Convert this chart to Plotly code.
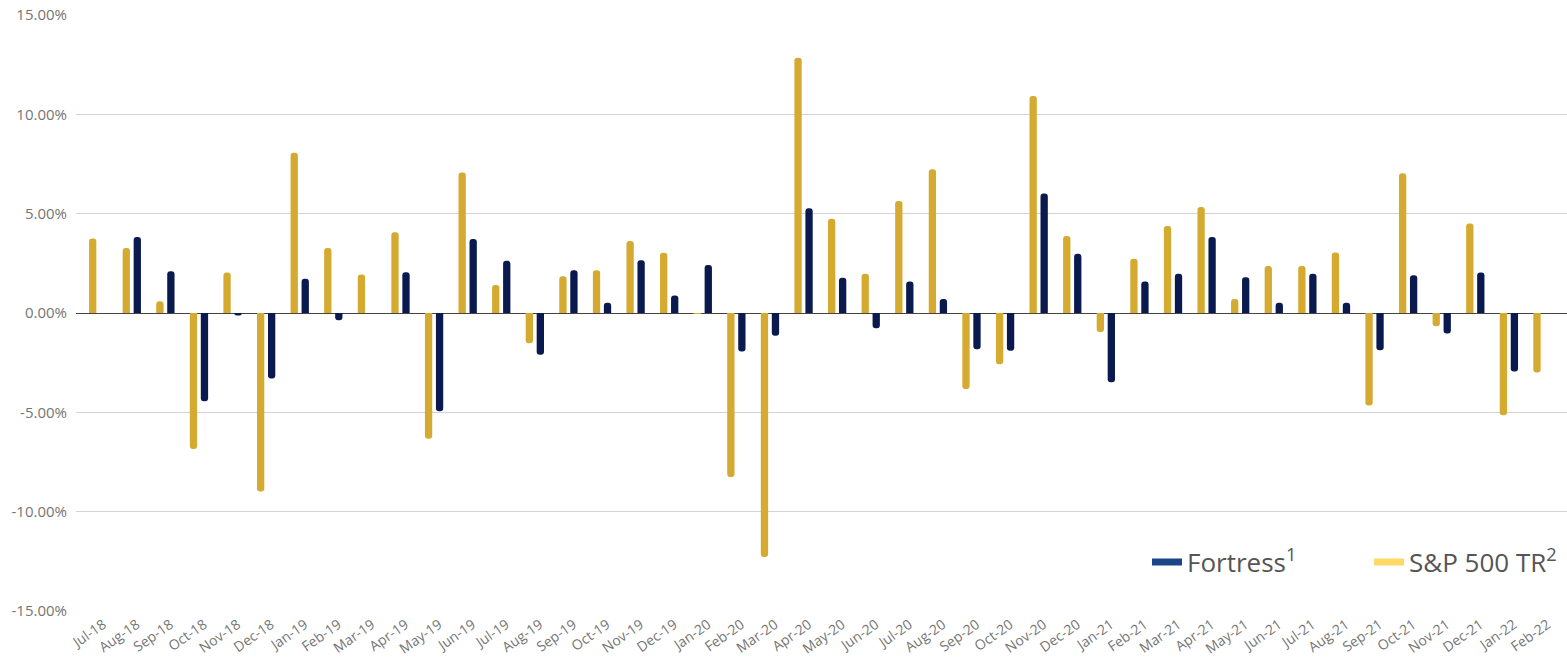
import plotly.graph_objects as go

months = ["Jul-18", "Aug-18", "Sep-18", "Oct-18", "Nov-18", "Dec-18",
          "Jan-19", "Feb-19", "Mar-19", "Apr-19", "May-19", "Jun-19",
          "Jul-19", "Aug-19", "Sep-19", "Oct-19", "Nov-19", "Dec-19",
          "Jan-20", "Feb-20", "Mar-20", "Apr-20", "May-20", "Jun-20",
          "Jul-20", "Aug-20", "Sep-20", "Oct-20", "Nov-20", "Dec-20",
          "Jan-21", "Feb-21", "Mar-21", "Apr-21", "May-21", "Jun-21",
          "Jul-21", "Aug-21", "Sep-21", "Oct-21", "Nov-21", "Dec-21",
          "Jan-22", "Feb-22"]

sp500_tr = [3.75, 3.27, 0.59, -6.84, 2.04, -8.99,
            8.06, 3.27, 1.94, 4.07, -6.33, 7.07,
            1.41, -1.52, 1.85, 2.15, 3.62, 3.03,
            -0.04, -8.25, -12.28, 12.85, 4.75, 1.97,
            5.64, 7.24, -3.82, -2.58, 10.92, 3.87,
            -0.96, 2.73, 4.38, 5.34, 0.71, 2.36,
            2.36, 3.05, -4.66, 7.04, -0.67, 4.51,
            -5.15, -3.00]

fortress = [None, 3.82, 2.10, -4.44, -0.12, -3.30,
            1.73, -0.37, None, 2.05, -4.95, 3.72,
            2.63, -2.10, 2.15, 0.51, 2.66, 0.88,
            2.41, -1.94, -1.14, 5.27, 1.77, -0.77,
            1.58, 0.71, -1.82, -1.90, 6.01, 2.98,
            -3.48, 1.58, 1.97, 3.82, 1.80, 0.52,
            1.97, 0.52, -1.87, 1.90, -1.03, 2.04,
            -2.95, None]

y_ticks = [-15, -10, -5, 0, 5, 10, 15]
y_tick_labels = ["-15.00%", "-10.00%", "-5.00%", "0.00%", "5.00%", "10.00%", "15.00%"]

GOLD = "#D4AA30"
NAVY = "#0B1A4E"
LEG_BLUE = "#1C4587"
LEG_YELLOW = "#FFD966"

fig = go.Figure()
fig.add_trace(go.Bar(x=months, y=sp500_tr, name="S&P 500 TR", marker_color=GOLD,
                     marker_line_width=0, showlegend=False))
fig.add_trace(go.Bar(x=months, y=fortress, name="Fortress", marker_color=NAVY,
                     marker_line_width=0, showlegend=False))
# legend-only entries (legend swatches use lighter colours in the original)
fig.add_trace(go.Scatter(x=[None], y=[None], mode="lines", name="Fortress<sup>1</sup>",
                         line=dict(color=LEG_BLUE, width=7), hoverinfo="skip",
                         legend="legend"))
fig.add_trace(go.Scatter(x=[None], y=[None], mode="lines", name="S&P 500 TR<sup>2</sup>",
                         line=dict(color=LEG_YELLOW, width=7), hoverinfo="skip",
                         legend="legend2"))

legend_font = dict(family="Open Sans", size=26, color="#555555")
fig.update_layout(
    width=1567, height=665,
    margin=dict(l=76, r=0, t=15, b=54),
    paper_bgcolor="white", plot_bgcolor="white",
    barmode="group", bargap=0.345, bargroupgap=0.336,
    barcornerradius=3,
    font=dict(family="Open Sans", color="#757575"),
    legend=dict(orientation="h", x=0.7183, y=0.082, xanchor="left", yanchor="middle",
                font=legend_font, bgcolor="rgba(0,0,0,0)", borderwidth=0),
    legend2=dict(orientation="h", x=0.8672, y=0.082, xanchor="left", yanchor="middle",
                 font=legend_font, bgcolor="rgba(0,0,0,0)", borderwidth=0),
    showlegend=True,
)
fig.update_xaxes(type="category", categoryorder="array", categoryarray=months,
                 range=[-0.661, 43.73], showgrid=False, zeroline=False, showline=False,
                 ticks="", tickangle=-35, ticklabelshift=5, ticklabelstandoff=2,
                 tickfont=dict(family="Open Sans", size=14, color="#757575"))
fig.update_yaxes(range=[-15, 15], tickvals=y_ticks, ticktext=y_tick_labels,
                 showgrid=True, gridcolor="#D3D3D3", gridwidth=1,
                 zeroline=True, zerolinecolor="#444444", zerolinewidth=1,
                 showline=False, ticks="", ticklabelstandoff=8,
                 tickfont=dict(family="Open Sans", size=15, color="#757575"))

fig.write_html("out.html")
